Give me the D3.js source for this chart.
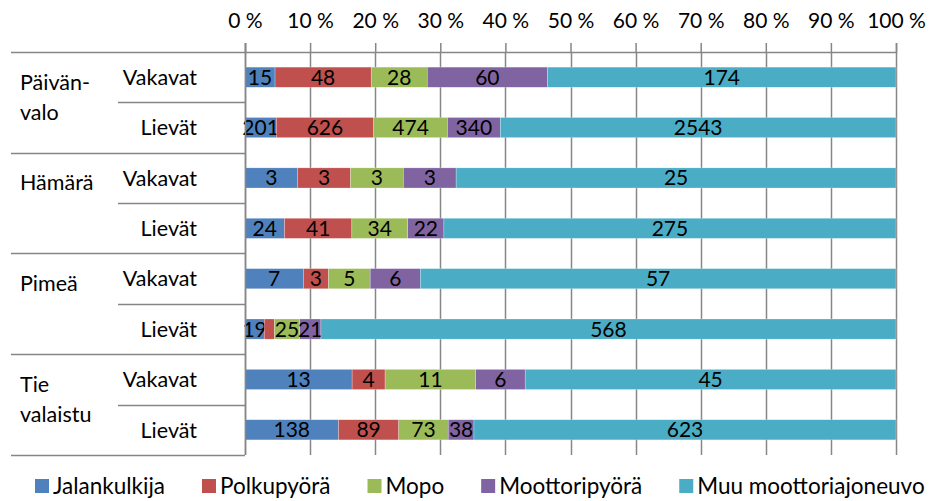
<!DOCTYPE html>
<html>
<head>
<meta charset="utf-8">
<script src="https://cdn.jsdelivr.net/npm/d3@7"></script>
<style>
  body { margin: 0; background: #fff; }
  text { font-family: Lato, "Open Sans", sans-serif; fill: #000; }
</style>
</head>
<body>
<div id="chart"></div>
<script>
// categories
var groups = ["Päivänvalo", "Hämärä", "Pimeä", "Tie valaistu"];
var groupLines = [["Päivän-", "valo"], ["Hämärä"], ["Pimeä"], ["Tie", "valaistu"]];
var severities = ["Vakavat", "Lievät"];
var seriesNames = ["Jalankulkija", "Polkupyörä", "Mopo", "Moottoripyörä", "Muu moottoriajoneuvo"];
var tickValues = [0, 0.1, 0.2, 0.3, 0.4, 0.5, 0.6, 0.7, 0.8, 0.9, 1];

// series values, one per row (group x severity)
var jalankulkija = [15, 201, 3, 24, 7, 19, 13, 138];
var polkupyora = [48, 626, 3, 41, 3, 10, 4, 89];
var mopo = [28, 474, 3, 34, 5, 25, 11, 73];
var moottoripyora = [60, 340, 3, 22, 6, 21, 6, 38];
var muu = [174, 2543, 25, 275, 57, 568, 45, 623];

var colors = ["#4F81BD", "#C0504D", "#9BBB59", "#8064A2", "#4BACC6"];

var width = 929, height = 501;
var plotLeft = 245, plotRight = 896, plotTop = 52, plotBottom = 455;
var fontSize = "21px";

var svg = d3.select("#chart")
    .append("svg")
    .attr("width", width)
    .attr("height", height)
    .style("background-color", "#fff");

// build row table
var allSeries = [jalankulkija, polkupyora, mopo, moottoripyora, muu];
var rows = [];
groups.forEach(function (g, gi) {
    severities.forEach(function (s, si) {
        var i = gi * 2 + si;
        var row = { id: g + "|" + s, group: g, severity: s, gi: gi, si: si };
        seriesNames.forEach(function (n, k) { row[n] = allSeries[k][i]; });
        rows.push(row);
    });
});

// normalise each row to 100 %
var stack = d3.stack().keys(seriesNames).offset(d3.stackOffsetExpand);
var stacked = stack(rows);

var x = d3.scaleLinear().domain([0, 1]).range([plotLeft, plotRight]);
var y = d3.scaleBand()
    .domain(rows.map(d => d.id))
    .range([plotTop, plotBottom])
    .paddingInner(0.6)
    .paddingOuter(0.3);
var step = y.step();

var color = d3.scaleOrdinal().domain(seriesNames).range(colors);
var lineColor = "#868686";

// gridlines
svg.append("g")
    .selectAll("line")
    .data(tickValues)
    .enter()
    .append("line")
    .attr("x1", d => Math.round(x(d)) + 0.5)
    .attr("x2", d => Math.round(x(d)) + 0.5)
    .attr("y1", plotTop)
    .attr("y2", plotBottom)
    .attr("stroke", lineColor)
    .attr("stroke-width", 1.5);

// top axis
var xAxis = svg.append("g")
    .attr("transform", `translate(0, ${plotTop})`)
    .call(d3.axisTop(x)
        .tickValues(tickValues)
        .tickFormat(d => Math.round(d * 100) + " %")
        .tickSize(9));
xAxis.select(".domain").attr("stroke", lineColor).attr("stroke-width", 1.5);
xAxis.selectAll(".tick line").attr("stroke", lineColor).attr("stroke-width", 1.5);
xAxis.selectAll(".tick text")
    .attr("y", -24)
    .attr("dy", 0)
    .style("font-size", fontSize)
    .style("font-family", "Lato, sans-serif")
    .attr("fill", "#000");

// bars
var layer = svg.append("g")
    .selectAll("g")
    .data(stacked)
    .enter()
    .append("g")
    .attr("fill", d => color(d.key));

layer.selectAll("rect")
    .data(d => d.map(function (p) { p.key = d.key; return p; }))
    .enter()
    .append("rect")
    .attr("x", d => x(d[0]))
    .attr("width", d => x(d[1]) - x(d[0]))
    .attr("y", d => y(d.data.id))
    .attr("height", y.bandwidth())
    .attr("stroke", "#fff")
    .attr("stroke-opacity", 0.5)
    .attr("stroke-width", 0.5);

// data labels (skip segments too narrow to hold one)
layer.selectAll("text")
    .data(d => d.filter(p => x(p[1]) - x(p[0]) >= 12))
    .enter()
    .append("text")
    .attr("x", d => (x(d[0]) + x(d[1])) / 2)
    .attr("y", d => y(d.data.id) + y.bandwidth() / 2)
    .attr("dy", "0.36em")
    .attr("text-anchor", "middle")
    .style("font-size", fontSize)
    .text(d => d.data[d.key]);

// category axis: vertical line
svg.append("line")
    .attr("x1", plotLeft + 0.5).attr("x2", plotLeft + 0.5)
    .attr("y1", plotTop - 9).attr("y2", plotBottom)
    .attr("stroke", lineColor)
    .attr("stroke-width", 1.5);

// separators between rows
var boundaries = rows.map(d => ({ y: y(d.id) - 0.3 * step, full: d.si === 0 }));
boundaries.push({ y: plotBottom, full: true });
svg.append("g")
    .selectAll("line")
    .data(boundaries)
    .enter()
    .append("line")
    .attr("x1", d => d.full ? 11 : 118)
    .attr("x2", plotLeft)
    .attr("y1", d => Math.round(d.y) + 0.5)
    .attr("y2", d => Math.round(d.y) + 0.5)
    .attr("stroke", lineColor)
    .attr("stroke-width", 1.5);

// severity labels
svg.append("g")
    .selectAll("text")
    .data(rows)
    .enter()
    .append("text")
    .attr("x", 197)
    .attr("y", d => y(d.id) + y.bandwidth() / 2)
    .attr("dy", "0.36em")
    .attr("text-anchor", "end")
    .style("font-size", "21.5px")
    .text(d => d.severity);

// group labels
groups.forEach(function (g, gi) {
    var gTop = y(rows[gi * 2].id) - 0.3 * step;
    groupLines[gi].forEach(function (t, li) {
        svg.append("text")
            .attr("x", 20)
            .attr("y", gTop + 30 + li * 30)
            .attr("dy", "0.36em")
            .style("font-size", "21.5px")
            .text(t);
    });
});

// legend
var legend = svg.append("g").attr("transform", "translate(35, 486)");
var lx = 0;
seriesNames.forEach(function (n) {
    var item = legend.append("g").attr("transform", `translate(${lx}, 0)`);
    item.append("rect")
        .attr("x", 0).attr("y", -7)
        .attr("width", 14).attr("height", 14)
        .attr("fill", color(n));
    var t = item.append("text")
        .attr("x", 18)
        .attr("dy", "0.36em")
        .style("font-size", "22.5px")
        .text(n);
    lx += 18 + t.node().getComputedTextLength() + 37;
});
</script>
</body>
</html>
